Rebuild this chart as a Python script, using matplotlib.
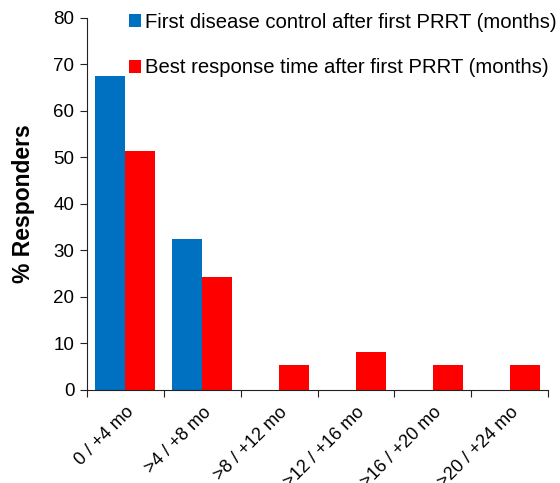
import matplotlib
matplotlib.use("Agg")
import matplotlib.pyplot as plt
import numpy as np

categories = ["0 / +4 mo", ">4 / +8 mo", ">8 / +12 mo", ">12 / +16 mo", ">16 / +20 mo", ">20 / +24 mo"]
first_control = [67.6, 32.4, 0, 0, 0, 0]
best_response = [51.4, 24.3, 5.4, 8.1, 5.4, 5.4]
series_labels = ["First disease control after first PRRT (months)",
                 "Best response time after first PRRT (months)"]

plt.rcParams['font.family'] = ['Liberation Sans', 'DejaVu Sans']

fig = plt.figure(figsize=(5.6, 4.83), dpi=100)
ax = fig.add_axes([0.155, 0.193, 0.824, 0.770])

x = np.arange(len(categories))
w = 0.39
ax.bar(x - w/2, first_control, w, color="#0070C0", label=series_labels[0])
ax.bar(x + w/2, best_response, w, color="#FF0000", label=series_labels[1])

ax.set_xlim(-0.5, len(categories) - 0.5)
ax.set_ylim(0, 80)
ax.set_yticks(np.arange(0, 81, 10))
ax.set_xticks(np.arange(len(categories) + 1) - 0.5, minor=False)
ax.set_xticklabels([])
ax.set_xticks(x, minor=True)
ax.set_xticklabels(categories, minor=True, rotation=45, ha='right', va='top',
                   rotation_mode='anchor', fontsize=13)
ax.tick_params(axis='x', which='minor', length=0, pad=10)
ax.tick_params(axis='x', which='major', length=5, direction='out', color='#222222')
ax.tick_params(axis='y', length=5, direction='out', labelsize=13.5, color='#222222', pad=4)
for s in ['top', 'right']:
    ax.spines[s].set_visible(False)
for s in ['left', 'bottom']:
    ax.spines[s].set_color('#222222')
ax.set_ylabel("% Responders", fontsize=16.5, fontweight='bold', labelpad=13)

leg = ax.legend(loc='upper left', bbox_to_anchor=(129/560, 1 - 13/483),
                bbox_transform=fig.transFigure, frameon=False, fontsize=14.6,
                handlelength=0.6, handleheight=0.6, handletextpad=0.2,
                labelspacing=1.3, borderaxespad=0, borderpad=0)

fig.savefig("out.png", dpi=100)
